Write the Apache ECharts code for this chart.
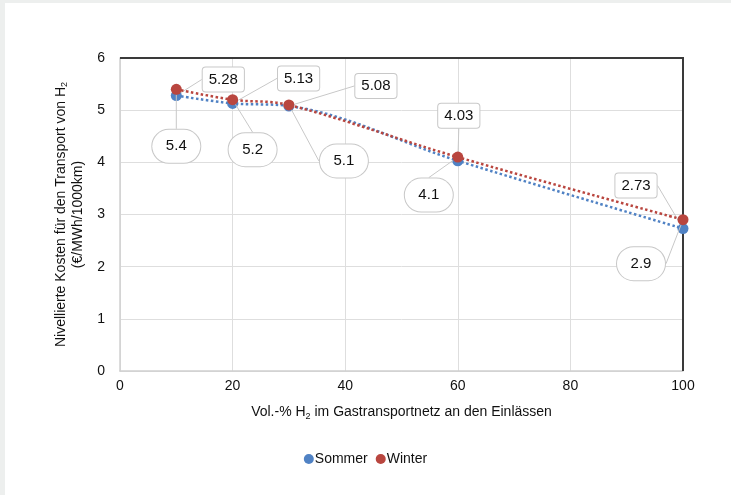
<!DOCTYPE html>
<html>
<head>
<meta charset="utf-8">
<script src="https://cdn.jsdelivr.net/npm/echarts@6/dist/echarts.min.js"></script>
<style>
  html, body { margin: 0; padding: 0; background: #edefee; }
  #panel { position: absolute; left: 5px; top: 3px; width: 726px; height: 492px; background: #fff; }
  #chart { position: absolute; left: 0; top: 0; width: 731px; height: 495px; }
</style>
</head>
<body>
<div id="panel"></div>
<div id="chart"></div>
<script>
// Vol.-% H2 at the inlets
const h2Share = [10, 20, 30, 60, 100];
const sommer = [5.28, 5.13, 5.08, 4.03, 2.73];
const winter = [5.4, 5.2, 5.1, 4.1, 2.9];
const xTicks = [0, 20, 40, 60, 80, 100];
const yTicks = [0, 1, 2, 3, 4, 5, 6];

// label offsets (px) from each point, as placed in the original chart
const sommerLabelShift = [[47, -16], [66, -25], [87, -20], [1, -45], [-47, -43]];
const winterLabelShift = [[0, 57], [20, 50], [55, 56], [-29, 38], [-42, 44]];

const FONT = '"Liberation Sans", Arial, sans-serif';
const BLUE = '#5082c4';
const RED = '#b9463f';
const TEXT = '#111';

const chart = echarts.init(document.getElementById('chart'));

const pairs = (ys) => h2Share.map((x, i) => [x, ys[i]]);

const baseLabel = {
  show: true,
  position: 'inside',
  fontFamily: FONT,
  fontSize: 15,
  color: TEXT,
  backgroundColor: '#fff',
  borderColor: '#c8c8c8',
  borderWidth: 1,
  formatter: (p) => String(p.value[1]),
};

chart.setOption({
  backgroundColor: 'transparent',
  animation: false,
  textStyle: { fontFamily: FONT },
  grid: { left: 120, right: 48, top: 58, bottom: 124 },
  legend: {
    bottom: 24,
    left: 'center',
    icon: 'circle',
    itemWidth: 10,
    itemHeight: 10,
    itemGap: 8,
    textStyle: { fontSize: 14, color: TEXT, padding: [0, 0, 0, -4] },
    data: ['Sommer', 'Winter'],
  },
  xAxis: {
    type: 'value',
    min: xTicks[0],
    max: xTicks[xTicks.length - 1],
    interval: 20,
    name: 'Vol.-% H{s|2} im Gastransportnetz an den Einlässen',
    nameLocation: 'middle',
    nameGap: 33,
    nameTextStyle: {
      fontSize: 14,
      color: TEXT,
      rich: { s: { fontSize: 9, padding: [8, 0, 0, 0], color: TEXT } },
    },
    axisLine: { show: true, lineStyle: { color: '#d0d0d0', width: 1.5 } },
    axisTick: { show: false },
    axisLabel: { fontSize: 14, color: TEXT, margin: 8 },
    splitLine: { show: true, lineStyle: { color: '#dedede', width: 1 } },
  },
  yAxis: [
    {
      type: 'value',
      min: yTicks[0],
      max: yTicks[yTicks.length - 1],
      interval: 1,
      name: 'Nivellierte Kosten für den Transport von H{s|2}\n(€/MWh/1000km)',
      nameLocation: 'middle',
      nameGap: 31,
      nameTextStyle: {
        fontSize: 14,
        color: TEXT,
        lineHeight: 17,
        rich: { s: { fontSize: 9, padding: [8, 0, 0, 0], color: TEXT } },
      },
      axisLine: { show: true, lineStyle: { color: '#d0d0d0', width: 1.5 } },
      axisTick: { show: false },
      axisLabel: { fontSize: 14, color: TEXT, margin: 15 },
      splitLine: { show: true, lineStyle: { color: '#dedede', width: 1 } },
    },
  ],
  graphic: [],
  series: [
    {
      name: 'Sommer',
      type: 'line',
      data: pairs(sommer),
      smooth: 0.35,
      symbol: 'circle',
      symbolSize: 11,
      itemStyle: { color: BLUE },
      lineStyle: { color: BLUE, width: 2.5, type: 'dotted' },
      label: { ...baseLabel, padding: [5, 6, 4, 6], borderRadius: 3 },
      labelLine: { show: true, lineStyle: { color: '#c8c8c8', width: 1 } },
      labelLayout: (p) => ({ dx: sommerLabelShift[p.dataIndex][0], dy: sommerLabelShift[p.dataIndex][1] }),
      z: 2,
    },
    {
      name: 'Winter',
      type: 'line',
      data: pairs(winter),
      smooth: 0.35,
      symbol: 'circle',
      symbolSize: 11,
      itemStyle: { color: RED },
      lineStyle: { color: RED, width: 2.5, type: 'dotted' },
      label: { ...baseLabel, width: 34, height: 25, align: 'center', lineHeight: 25, padding: [4, 7, 4, 7], borderRadius: 17 },
      labelLine: { show: true, lineStyle: { color: '#c8c8c8', width: 1 } },
      labelLayout: (p) => ({ dx: winterLabelShift[p.dataIndex][0], dy: winterLabelShift[p.dataIndex][1] }),
      z: 3,
    },
  ],
});

// frame: dark top and right edges like the original plot area
const r = chart.getModel().getComponent('grid').coordinateSystem.getRect();
chart.setOption({
  graphic: [
    {
      type: 'polyline',
      silent: true,
      z: 1,
      shape: { points: [[r.x, r.y], [r.x + r.width, r.y], [r.x + r.width, r.y + r.height]] },
      style: { stroke: '#3a3a3a', lineWidth: 2, fill: null },
    },
  ],
});
</script>
</body>
</html>
